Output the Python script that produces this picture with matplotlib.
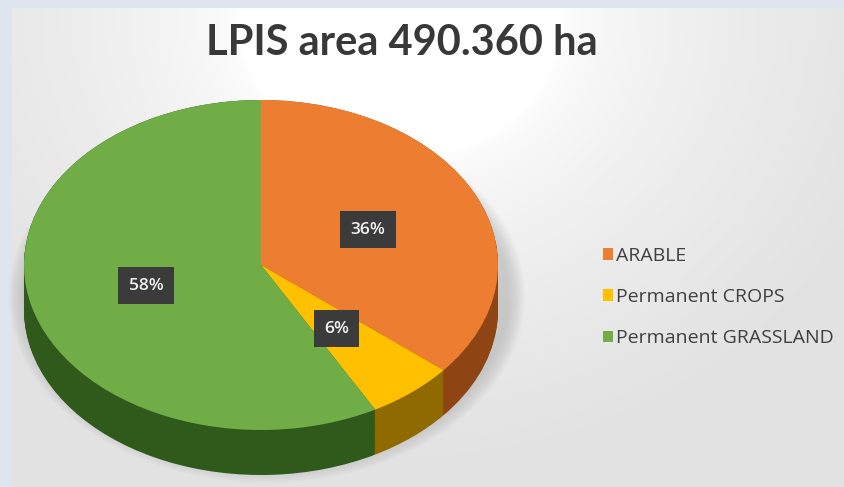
import matplotlib
matplotlib.use('Agg')
from matplotlib import pyplot as plt
from matplotlib.patches import Rectangle, Ellipse
import numpy as np

labels = ['ARABLE', 'Permanent CROPS', 'Permanent GRASSLAND']
shares = [36, 6, 58]
colors = ['#ED7D31', '#FFC000', '#70AD47']
side_colors = ['#8E4513', '#8F6A00', '#2F5A1C']
title = 'LPIS area 490.360 ha'

W, H = 844, 487
fig = plt.figure(figsize=(W / 100, H / 100), dpi=100)

# background: bluish frame + grey panel with a white glow behind the title
bg = fig.add_axes([0, 0, 1, 1])
bg.set_xlim(0, W)
bg.set_ylim(H, 0)
bg.axis('off')
bg.add_patch(Rectangle((0, 0), W, H, color='#dfe5ee', zorder=0))
yy, xx = np.mgrid[0:H - 8, 0:W - 12]
r = np.hypot((xx + 12 - 400) / 1.15, yy - 10)
t = np.clip((r - 140) / 300, 0, 1)
c0 = np.array([1.0, 1.0, 1.0])
c1 = np.array([0.89, 0.89, 0.89])
img = c0 + (c1 - c0) * t[..., None] ** 0.6
bg.imshow(img, extent=(12, W, H, 8), zorder=1, aspect='auto')

# pie axes: radius 1 -> 237 px wide, 165 px tall, side depth 45 px
cx, cy, rx, ry, depth = 261, 265, 237, 165, 45
d = depth / ry
left, right = cx - rx, cx + rx
top, bottom = cy - ry, cy + ry + depth
ax = fig.add_axes([left / W, (H - bottom) / H, (right - left) / W, (bottom - top) / H])
ax.axis('off')

# soft shadow under the pie
sh = fig.add_axes([0, 0, 1, 1], zorder=0.5)
sh.set_xlim(0, W)
sh.set_ylim(H, 0)
sh.axis('off')
for k in range(14):
    sh.add_patch(Ellipse((cx + 6, cy + depth * 0.7), 2 * rx + 10 + k * 2.5, 2 * ry + 10 + k * 2.5,
                         color='#808080', alpha=0.025, lw=0))
ax.set_zorder(1)

# extruded side: stacked layers of the same pie
for off in np.linspace(-d, 0, 40):
    ax.pie(shares, colors=side_colors, startangle=90, counterclock=False,
           center=(0, off), radius=1, wedgeprops=dict(linewidth=0))

wedges, texts, autotexts = ax.pie(
    shares, colors=colors, startangle=90, counterclock=False,
    radius=1, autopct='%d%%', pctdistance=0.5,
    wedgeprops=dict(linewidth=0),
    textprops=dict(color='#f2f2f2', fontsize=12.5, family='Open Sans', fontweight='semibold'))
for at in autotexts:
    at.set_bbox(dict(boxstyle='square,pad=0.6', fc='#3b3b3b', ec='none'))

ax.set_aspect('auto')
ax.set_xlim(-1, 1)
ax.set_ylim(-1 - d, 1)

fig.text(402 / W, 1 - 43 / H, title, ha='center', va='center', fontsize=30,
         fontweight='bold', color='#383838', family='Lato')

leg = fig.legend(wedges, labels, loc='center left', bbox_to_anchor=(585 / W, 1 - 297 / H),
                 frameon=False, handlelength=0.55, handleheight=0.55, handletextpad=0.15,
                 labelspacing=1.2, prop=dict(family='Open Sans', size=14))
for txt in leg.get_texts():
    txt.set_color('#404040')

fig.savefig('out.png', dpi=100)
